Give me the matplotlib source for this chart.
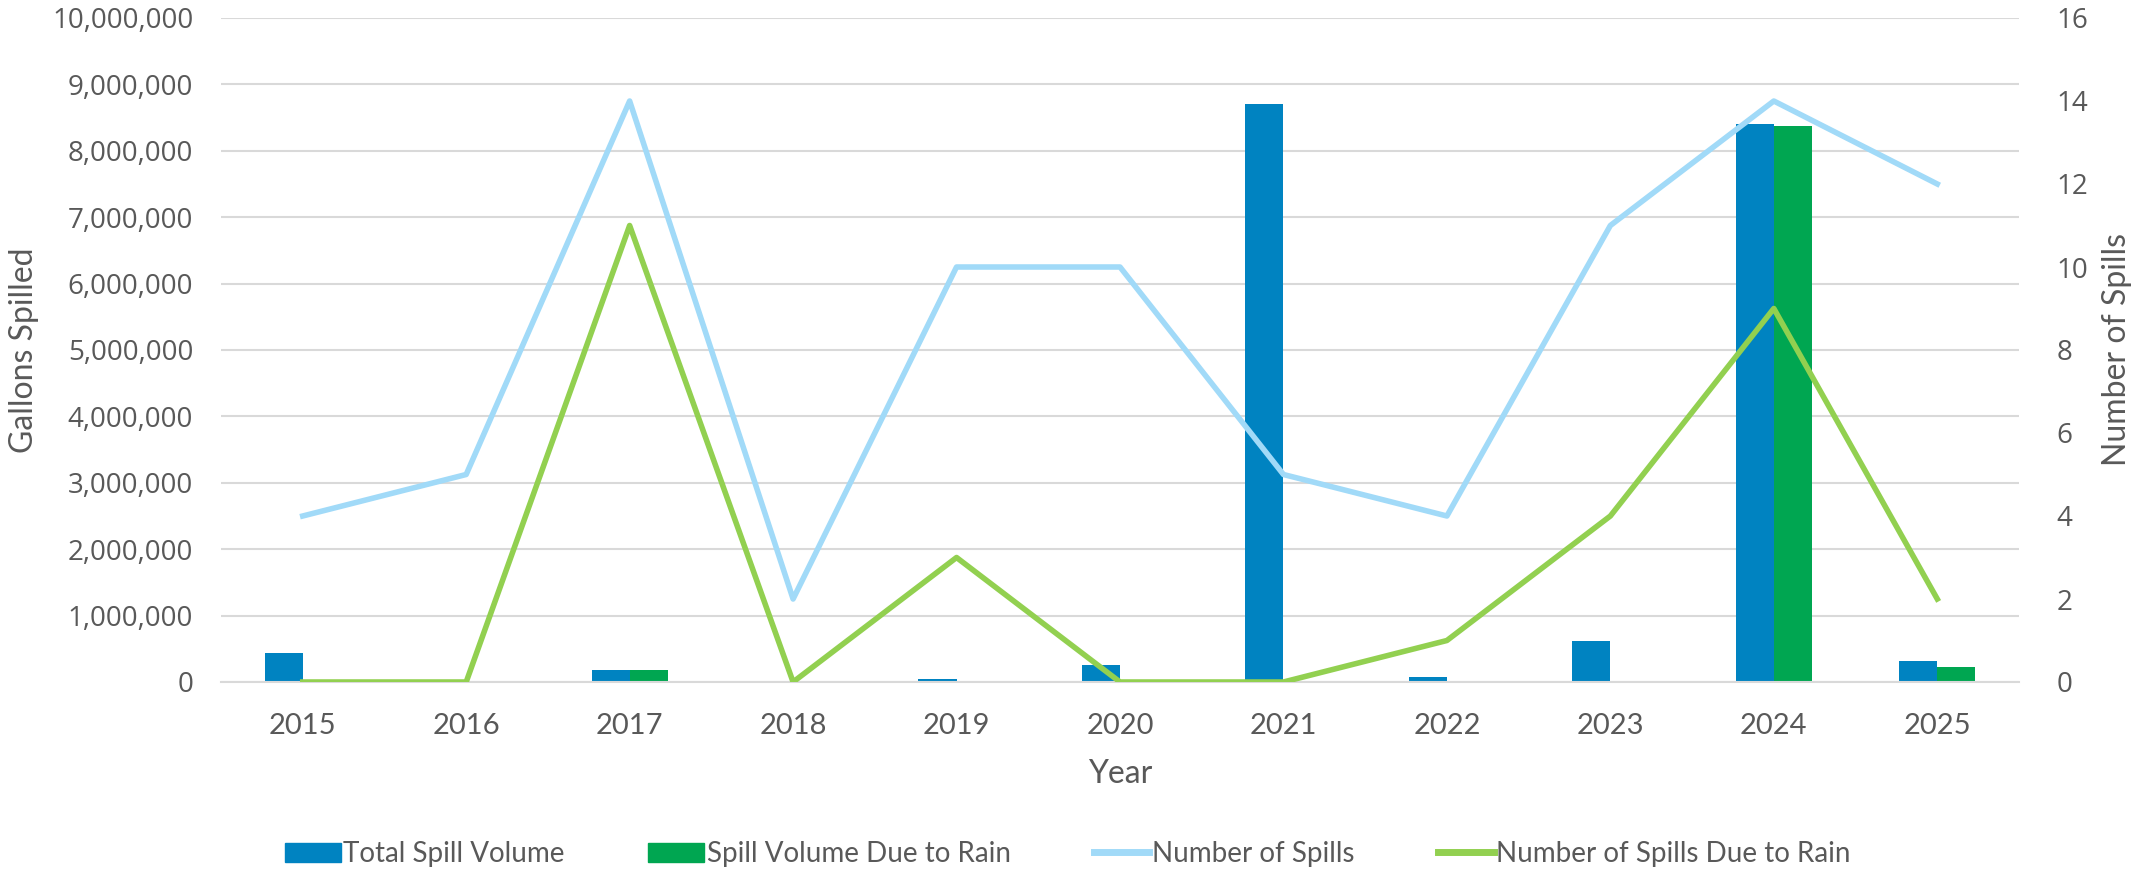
import numpy as np
import matplotlib
matplotlib.use("Agg")
import matplotlib.pyplot as plt
from matplotlib.ticker import FuncFormatter, MultipleLocator
from matplotlib.lines import Line2D
from matplotlib.patches import Patch

years = ["2015", "2016", "2017", "2018", "2019", "2020", "2021", "2022", "2023", "2024", "2025"]
total_volume = [440000, 0, 180000, 10000, 50000, 255000, 8700000, 80000, 615000, 8400000, 320000]
rain_volume = [0, 0, 180000, 0, 0, 0, 0, 0, 0, 8380000, 230000]
num_spills = [4, 5, 14, 2, 10, 10, 5, 4, 11, 14, 12]
num_spills_rain = [0, 0, 11, 0, 3, 0, 0, 1, 4, 9, 2]

c_total = "#0083C1"
c_rain = "#00A651"
c_num = "#A1DAF8"
c_num_rain = "#92D050"
txt = "#595959"
grid = "#D9D9D9"

plt.rcParams['font.family'] = ['Open Sans', 'DejaVu Sans']
label_font = ['Lato', 'Open Sans', 'DejaVu Sans']

W, H = 2136, 875
fig = plt.figure(figsize=(W/100, H/100), dpi=100)
ax = fig.add_axes([221/W, 1 - 682/H, (2019-221)/W, (682-18)/H])

x = np.arange(len(years))
w = 0.233
ax.bar(x - w/2, total_volume, w, color=c_total, zorder=2)
ax.bar(x + w/2, rain_volume, w, color=c_rain, zorder=2)

ax.set_ylim(0, 10000000)
ax.set_xlim(-0.5, len(years) - 0.5)
ax.yaxis.set_major_locator(MultipleLocator(1000000))
ax.yaxis.set_major_formatter(FuncFormatter(lambda v, p: f"{int(v):,}"))
ax.set_xticks(x)
ax.set_xticklabels(years, family=label_font, fontsize=21)
ax.grid(axis='y', color=grid, linewidth=1.5, zorder=0)
ax.set_axisbelow(True)
for s in ax.spines.values():
    s.set_visible(False)
ax.spines['bottom'].set_visible(True)
ax.spines['bottom'].set_color(grid)
ax.spines['bottom'].set_linewidth(1.5)
ax.tick_params(axis='both', length=0, colors=txt)
ax.tick_params(axis='x', pad=22)
ax.tick_params(axis='y', pad=20, labelsize=20)
ax.set_ylabel("Gallons Spilled", fontsize=23, color=txt, family=label_font)
ax.yaxis.set_label_coords(-(221 - 24)/(2019-221), 0.5)
ax.set_xlabel("Year", fontsize=23, color=txt, family=label_font)
ax.xaxis.set_label_coords(0.5, -(774 - 682)/(682-18))
ax.xaxis.label.set_va('center')
ax.yaxis.label.set_va('center')

ax2 = ax.twinx()
ax2.plot(x, num_spills, color=c_num, linewidth=4, zorder=3)
ax2.plot(x, num_spills_rain, color=c_num_rain, linewidth=4, zorder=3)
ax2.set_ylim(0, 16)
ax2.yaxis.set_major_locator(MultipleLocator(2))
for s in ax2.spines.values():
    s.set_visible(False)
ax2.tick_params(axis='y', length=0, labelsize=20, colors=txt, pad=27)
ax2.set_ylabel("Number of Spills", fontsize=23, color=txt, family=label_font, rotation=90)
ax2.yaxis.set_label_coords(1 + (2117 - 2019)/(2019-221), 0.5)
ax2.yaxis.label.set_va('center')

handles = [Patch(color=c_total, label="Total Spill Volume"),
           Patch(color=c_rain, label="Spill Volume Due to Rain"),
           Line2D([], [], color=c_num, linewidth=5, label="Number of Spills"),
           Line2D([], [], color=c_num_rain, linewidth=5, label="Number of Spills Due to Rain")]
fig.legend(handles=handles, loc='center', bbox_to_anchor=(1068/W, 1 - 854/H), ncol=4,
           frameon=False, prop={'family': label_font, 'size': 20}, labelcolor=txt,
           handlelength=2.0, handletextpad=0.1, columnspacing=3.0)

fig.savefig("out.png", dpi=100)
